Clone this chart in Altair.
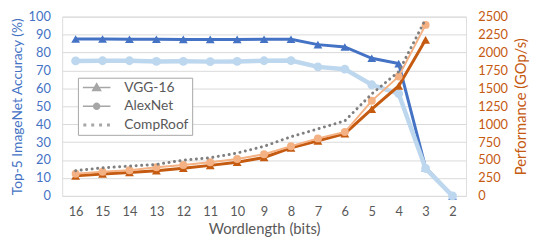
import math
import altair as alt
import pandas as pd

# ---- data ----
wordlength = ["16", "15", "14", "13", "12", "11", "10", "9", "8", "7", "6", "5", "4", "3", "2"]
vgg_acc = [87.5, 87.5, 87.4, 87.4, 87.3, 87.3, 87.3, 87.4, 87.4, 84.4, 83.1, 76.8, 73.8, 15.8, 0]
alex_acc = [75.3, 75.4, 75.4, 75.0, 75.1, 74.9, 75.0, 75.4, 75.5, 72.0, 70.7, 62.0, 57.0, 15.3, 0]
vgg_perf = [280, 305, 326, 352, 386, 426, 469, 536, 669, 767, 868, 1210, 1533, 2177, None]
alex_perf = [310, 336, 359, 399, 432, 469, 515, 581, 692, 802, 891, 1326, 1666, 2385, None]
comproof = [352, 392, 416, 439, 499, 532, 598, 692, 825, 935, 1047, 1423, 1733, 2465, None]
legend_names = ["VGG-16", "AlexNet", "CompRoof"]
acc_ticks = list(range(0, 101, 10))
perf_ticks = list(range(0, 2501, 250))

df = pd.DataFrame({
    "wl": wordlength,
    "vgg_acc": vgg_acc,
    "alex_acc": alex_acc,
    "vgg_perf": vgg_perf,
    "alex_perf": alex_perf,
    "comproof": comproof,
})

FONT = "Lato"
BLUE = "#4472C4"
LBLUE = "#BDD7EE"
ORANGE = "#C55A11"
LORANGE = "#F4B183"
GREY = "#7F7F7F"
TXT = "#595959"

# legend symbol paths (line + marker)
line_part = "M-2.8,0H2.8"
tri_path = line_part + "M0,-0.8L0.8,0.6L-0.8,0.6Z"
circ_pts = [(0.6 * math.cos(2 * math.pi * k / 16), 0.6 * math.sin(2 * math.pi * k / 16)) for k in range(16)]
circ_path = line_part + "M" + "L".join(f"{x:.3f},{y:.3f}" for x, y in circ_pts) + "Z"
dot_path = "".join(f"M{c - 0.15:.2f},-0.15h0.3v0.3h-0.3Z" for c in (-2.4, -0.8, 0.8, 2.4))

x_enc = alt.X(
    "wl:O",
    sort=wordlength,
    scale=alt.Scale(type="point", padding=0.5, domain=wordlength),
    axis=alt.Axis(
        title="Wordlength (bits)", labelAngle=0, domain=False, ticks=False, grid=False,
        labelColor=TXT, labelFontSize=13, labelFont=FONT, labelPadding=10,
        titleColor=TXT, titleFontSize=15, titleFont=FONT, titleFontWeight="normal", titlePadding=3,
    ),
)

acc_axis = alt.Axis(
    orient="left", values=acc_ticks, title="Top-5 ImageNet Accuracy (%)",
    domain=False, ticks=False, grid=True, gridColor="#D9D9D9", gridWidth=1,
    labelColor=BLUE, labelFontSize=13, labelFont=FONT, labelPadding=12,
    titleColor=BLUE, titleFontSize=14, titleFont=FONT, titleFontWeight="normal", titlePadding=4,
)
perf_axis = alt.Axis(
    orient="right", values=perf_ticks, title="Performance (GOp/s)", format="d",
    domain=False, ticks=False, grid=False,
    labelColor=ORANGE, labelFontSize=13, labelFont=FONT, labelPadding=12,
    titleColor=ORANGE, titleFontSize=15, titleFont=FONT, titleFontWeight="normal", titlePadding=6,
    titleAngle=270, titleBaseline="top",
)


def acc_y(field):
    return alt.Y(f"{field}:Q", scale=alt.Scale(domain=[0, 100]), axis=acc_axis)


def perf_y(field):
    return alt.Y(f"{field}:Q", scale=alt.Scale(domain=[0, 2500]), axis=perf_axis)


base = alt.Chart(df)

vgg_acc_line = base.mark_line(
    color=BLUE, strokeWidth=3,
    point=alt.OverlayMarkDef(shape="triangle-up", size=80, filled=True, color=BLUE),
).encode(x=x_enc, y=acc_y("vgg_acc"))

alex_acc_line = base.mark_line(
    color=LBLUE, strokeWidth=4.5,
    point=alt.OverlayMarkDef(shape="circle", size=80, filled=True, color=LBLUE),
).encode(x=x_enc, y=acc_y("alex_acc"))

legend_df = pd.DataFrame({"name": legend_names})
legend_layer = alt.Chart(legend_df).transform_filter("false").mark_point(
    filled=True, fill="#A6A6A6", stroke="#A6A6A6", strokeWidth=1.5, opacity=1
).encode(
    shape=alt.Shape(
        "name:N",
        scale=alt.Scale(domain=legend_names, range=[tri_path, circ_path, dot_path]),
        legend=alt.Legend(
            title=None, orient="none", legendX=16, legendY=62,
            symbolSize=100, symbolOffset=9, symbolStrokeWidth=1.5,
            labelOffset=21, labelFontSize=14, labelFont=FONT, labelColor=TXT,
            labelExpr="datum.label + '      '",
            rowPadding=5, padding=3, strokeColor="#A6A6A6", fillColor="white",
        ),
    )
)

vgg_perf_line = base.mark_line(
    color=ORANGE, strokeWidth=3,
    point=alt.OverlayMarkDef(shape="triangle-up", size=80, filled=True, color=ORANGE),
).encode(x=x_enc, y=perf_y("vgg_perf"))

alex_perf_line = base.mark_line(
    color=LORANGE, strokeWidth=2,
    point=alt.OverlayMarkDef(shape="circle", size=65, filled=True, color=LORANGE),
).encode(x=x_enc, y=perf_y("alex_perf"))

comproof_line = base.mark_line(
    color=GREY, strokeWidth=3, strokeDash=[0.1, 5.5], strokeCap="round",
).encode(x=x_enc, y=perf_y("comproof"))

acc_group = alt.layer(vgg_acc_line, alex_acc_line, legend_layer)
perf_group = alt.layer(vgg_perf_line, alex_perf_line, comproof_line)

chart = alt.layer(acc_group, perf_group).resolve_scale(y="independent").properties(
    width=410,
    height=182,
    autosize=alt.AutoSizeParams(type="none"),
    padding={"left": 55, "top": 7, "right": 65, "bottom": 44},
).configure_view(stroke=None).configure(font=FONT)

chart.save("out.html", embed_options={"renderer": "svg", "actions": False})
